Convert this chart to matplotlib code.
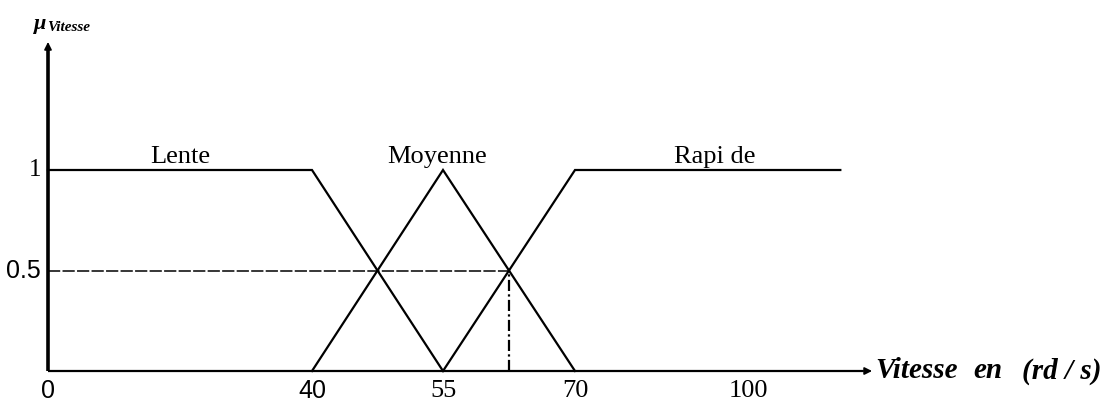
import numpy as np
import matplotlib
matplotlib.use("Agg")
import matplotlib.pyplot as plt

# Membership functions of the speed variable (fuzzy sets)
lente_x = [0, 40, 55]
lente_y = [1, 1, 0]
moyenne_x = [40, 55, 70]
moyenne_y = [0, 1, 0]
rapide_x = [55, 70, 116]
rapide_y = [0, 1, 1]
set_names = ["Lente", "Moyenne", "Rapi de"]

cut_level = 0.5          # activation level shown by the dashed line
cut_speed = 62.5         # speed where Moyenne and Rapide both equal 0.5

x_tick_vals = [0, 40, 55, 70, 100]
x_tick_labels = ["0", "40", "55", "70", "100"]
y_tick_vals = [1, 0.5]
y_tick_labels = ["1", "0.5"]

# Schematic (non-uniform) horizontal scale: speed -> drawing position
_scale_v = np.array([-50, 0, 40, 55, 70, 100, 200], dtype=float)
_scale_p = np.array([-282, 48, 312, 443, 575, 748, 1325], dtype=float)


def fwd(v):
    return np.interp(v, _scale_v, _scale_p)


def inv(p):
    return np.interp(p, _scale_p, _scale_v)


W, H, DPI = 1110, 404, 100
fig = plt.figure(figsize=(W / DPI, H / DPI), dpi=DPI)
ax = fig.add_axes([0, 0, 1, 1])
ax.set_xscale("function", functions=(fwd, inv))
ax.set_xlim(inv(0), inv(W))
# vertical: 0 at 371 px from top, 1 at 170 px from top
ax.set_ylim(-(H - 371) / 201, 371 / 201)
ax.axis("off")

serif = "Liberation Serif"
sans = "Liberation Sans"
k = "black"

# axes with arrows
x_end, y_end = 121.5, 1.637
ax.plot([0, x_end - 1.5], [0, 0], color=k, lw=1.6, solid_capstyle="butt")
ax.plot([0, 0], [0, y_end - 0.04], color=k, lw=2.6, solid_capstyle="butt")
ax.annotate("", xy=(x_end, 0), xytext=(x_end - 3, 0),
            arrowprops=dict(arrowstyle="-|>", color=k, lw=1.2,
                            mutation_scale=11, shrinkA=0, shrinkB=0))
ax.annotate("", xy=(0, y_end), xytext=(0, y_end - 0.08),
            arrowprops=dict(arrowstyle="-|>", color=k, lw=1.2,
                            mutation_scale=11, shrinkA=0, shrinkB=0))

# membership functions
for xs, ys in [(lente_x, lente_y), (moyenne_x, moyenne_y), (rapide_x, rapide_y)]:
    ax.plot(xs, ys, color=k, lw=1.6, solid_joinstyle="miter")

# 0.5 cut lines
ax.plot([0, cut_speed], [cut_level, cut_level], color=k, lw=1.1,
        linestyle=(0, (8, 1.5)))
ax.plot([cut_speed, cut_speed], [0, cut_level], color=k, lw=1.6,
        linestyle=(0, (5, 1.5, 1, 1.5)))

# set names
name_pos = [(20.0, 1.065), (54.3, 1.065), (94.2, 1.065)]
for (xv, yv), t in zip(name_pos, set_names):
    ax.text(xv, yv, t, fontsize=19, family=serif, ha="center", va="center")

# tick labels
tick_fonts = [sans, sans, serif, serif, serif]
tick_sizes = [18, 18, 19, 19, 19]
for v, lab, f, s in zip(x_tick_vals, x_tick_labels, tick_fonts, tick_sizes):
    ax.annotate(lab, xy=(v, 0), xytext=(0, -14.5), textcoords="offset points",
                ha="center", va="center", fontsize=s, family=f)
for v, lab, f in zip(y_tick_vals, y_tick_labels, [serif, sans]):
    ax.annotate(lab, xy=(0, v), xytext=(-5, 0), textcoords="offset points",
                ha="right", va="center", fontsize=18, family=f)

# axis titles
title_parts = ["Vitesse", "en", "(rd / s)"]
title_offsets = [2, 73, 108]
for t, dx in zip(title_parts, title_offsets):
    ax.annotate(t, xy=(x_end, 0), xytext=(dx, 0),
                textcoords="offset points", ha="left", va="center",
                fontsize=21, family=serif, style="italic", fontweight="bold")
ax.annotate("\u03bc", xy=(0, y_end), xytext=(-10, 13), textcoords="offset points",
            ha="left", va="center", fontsize=16, family=serif, style="italic",
            fontweight="bold")
ax.annotate("Vitesse", xy=(0, y_end), xytext=(-1, 10.5), textcoords="offset points",
            ha="left", va="center", fontsize=11, family=serif, style="italic",
            fontweight="bold")

fig.savefig("out.png", dpi=DPI)
